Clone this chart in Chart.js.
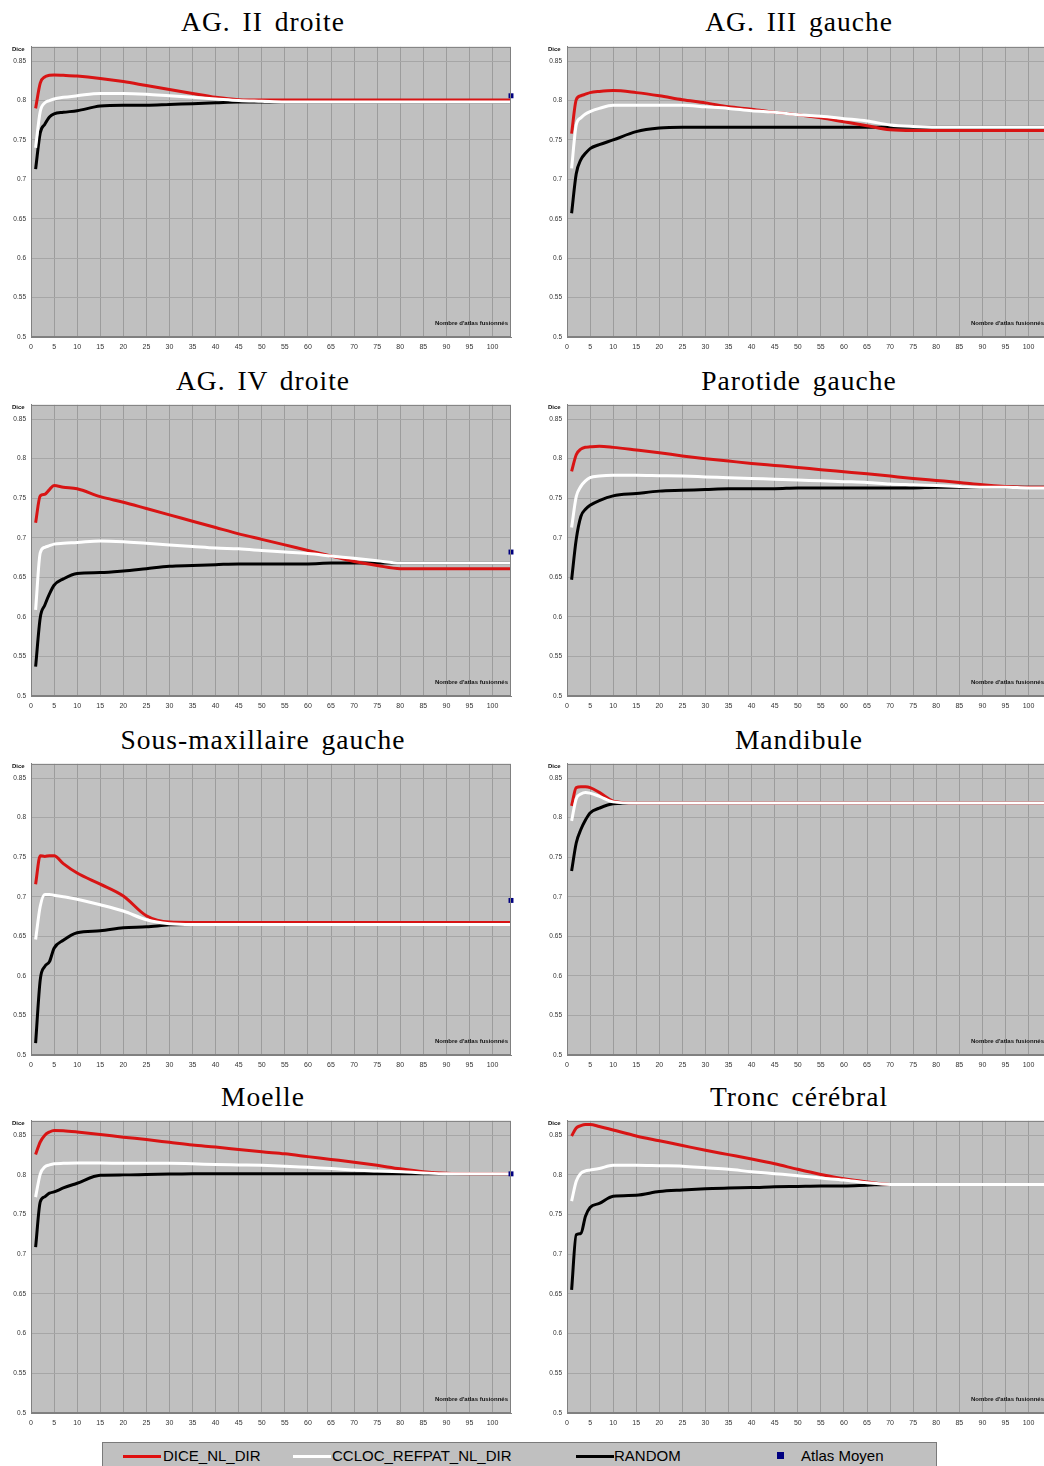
<!DOCTYPE html>
<html>
<head>
<meta charset="utf-8">
<script src="https://cdn.jsdelivr.net/npm/chart.js@4.4.1/dist/chart.umd.min.js"></script>
<style>
html,body{margin:0;padding:0;background:#fff;width:1044px;height:1466px;overflow:hidden;}
#wrap{position:relative;width:1044px;height:1466px;overflow:hidden;}
canvas{position:absolute;}
.title{position:absolute;width:526px;text-align:center;font-family:"Liberation Serif","Times New Roman",serif;font-size:27.5px;letter-spacing:1px;word-spacing:4px;color:#000;line-height:30px;white-space:nowrap;}
#legend{position:absolute;left:102px;top:1442px;width:835px;height:40px;background:#c0c0c0;border:1px solid #7a7a7a;box-sizing:border-box;font-family:"Liberation Sans",Arial,sans-serif;font-size:15px;color:#000;}
.li{position:absolute;top:4px;line-height:18px;white-space:nowrap;}
.ln{position:absolute;height:3px;top:12px;}
.sq{position:absolute;width:7px;height:7px;top:9px;background:#000080;}
</style>
</head>
<body>
<div id="wrap">
<div id="legend">
  <div class="ln" style="left:20px;width:38px;background:#e01010;"></div>
  <div class="li" style="left:60px;">DICE_NL_DIR</div>
  <div class="ln" style="left:190px;width:38px;background:#ffffff;"></div>
  <div class="li" style="left:229px;">CCLOC_REFPAT_NL_DIR</div>
  <div class="ln" style="left:473px;width:38px;background:#000000;"></div>
  <div class="li" style="left:511px;">RANDOM</div>
  <div class="sq" style="left:674px;"></div>
  <div class="li" style="left:698px;">Atlas Moyen</div>
</div>
</div>
<script>
// ---- Data ----
const X = [1,2,3,4,5,7,10,15,20,25,30,35,40,45,50,55,60,65,70,75,80,85,90,95,100,104];
const xTickLabels = [0,5,10,15,20,25,30,35,40,45,50,55,60,65,70,75,80,85,90,95,100];
const yTickLabels = [0.5,0.55,0.6,0.65,0.7,0.75,0.8,0.85];
const seriesNames = ["DICE_NL_DIR","CCLOC_REFPAT_NL_DIR","RANDOM","Atlas Moyen"];
const titles = ["AG. II droite","AG. III gauche","AG. IV droite","Parotide gauche","Sous-maxillaire gauche","Mandibule","Moelle","Tronc cérébral"];

// AG. II droite
const agIIdroite_dice   = [0.790,0.822,0.830,0.832,0.8325,0.832,0.831,0.828,0.824,0.819,0.814,0.809,0.804,0.801,0.8005,0.8005,0.8005,0.8005,0.8005,0.8005,0.8005,0.8005,0.8005,0.8005,0.8005,0.8005];
const agIIdroite_ccloc  = [0.740,0.786,0.797,0.800,0.802,0.804,0.806,0.809,0.809,0.808,0.806,0.804,0.802,0.800,0.799,0.798,0.798,0.798,0.798,0.798,0.798,0.798,0.798,0.798,0.798,0.798];
const agIIdroite_random = [0.713,0.759,0.770,0.779,0.783,0.785,0.787,0.793,0.794,0.794,0.795,0.796,0.797,0.798,0.798,0.798,0.798,0.798,0.798,0.798,0.798,0.798,0.798,0.798,0.798,0.798];
const agIIdroite_atlas  = 0.806;

// AG. III gauche
const agIIIgauche_dice   = [0.758,0.801,0.806,0.808,0.810,0.8115,0.8126,0.810,0.806,0.801,0.797,0.792,0.789,0.785,0.782,0.778,0.773,0.768,0.763,0.762,0.762,0.762,0.762,0.762,0.762,0.762];
const agIIIgauche_ccloc  = [0.714,0.769,0.778,0.783,0.786,0.790,0.794,0.794,0.794,0.794,0.792,0.790,0.787,0.785,0.782,0.780,0.777,0.774,0.769,0.767,0.766,0.766,0.766,0.766,0.766,0.766];
const agIIIgauche_random = [0.657,0.707,0.725,0.733,0.739,0.744,0.750,0.7605,0.765,0.766,0.766,0.766,0.766,0.766,0.766,0.766,0.766,0.766,0.766,0.766,0.766,0.766,0.766,0.766,0.766,0.766];
const agIIIgauche_atlas  = 0.788;

// AG. IV droite
const agIVdroite_dice   = [0.719,0.753,0.755,0.761,0.766,0.764,0.762,0.752,0.745,0.737,0.729,0.721,0.713,0.705,0.698,0.691,0.684,0.677,0.670,0.665,0.661,0.661,0.661,0.661,0.661,0.661];
const agIVdroite_ccloc  = [0.609,0.681,0.688,0.690,0.692,0.693,0.694,0.696,0.695,0.693,0.691,0.689,0.687,0.686,0.684,0.682,0.680,0.677,0.674,0.671,0.668,0.668,0.668,0.668,0.668,0.668];
const agIVdroite_random = [0.537,0.599,0.615,0.629,0.640,0.648,0.655,0.656,0.658,0.661,0.664,0.665,0.666,0.667,0.667,0.667,0.667,0.668,0.668,0.668,0.668,0.668,0.668,0.668,0.668,0.668];
const agIVdroite_atlas  = 0.682;

// Parotide gauche
const parotide_dice   = [0.784,0.805,0.812,0.8145,0.815,0.8156,0.8143,0.811,0.8075,0.8035,0.800,0.797,0.794,0.7915,0.789,0.786,0.7835,0.781,0.778,0.775,0.7725,0.770,0.767,0.765,0.764,0.764];
const parotide_ccloc  = [0.713,0.752,0.765,0.772,0.776,0.778,0.779,0.779,0.7785,0.778,0.777,0.776,0.775,0.774,0.773,0.772,0.771,0.770,0.768,0.767,0.766,0.765,0.764,0.764,0.763,0.763];
const parotide_random = [0.647,0.698,0.727,0.736,0.741,0.747,0.753,0.756,0.759,0.760,0.761,0.762,0.762,0.762,0.763,0.763,0.763,0.763,0.763,0.763,0.764,0.764,0.764,0.764,0.764,0.764];
const parotide_atlas  = 0.764;

// Sous-maxillaire gauche
const sousmax_dice   = [0.716,0.752,0.751,0.752,0.752,0.742,0.730,0.716,0.701,0.676,0.668,0.6675,0.6675,0.6675,0.6675,0.6675,0.6675,0.6675,0.6675,0.6675,0.6675,0.6675,0.6675,0.6675,0.6675,0.6675];
const sousmax_ccloc  = [0.646,0.688,0.703,0.703,0.702,0.700,0.697,0.690,0.682,0.671,0.666,0.665,0.665,0.665,0.665,0.665,0.665,0.665,0.665,0.665,0.665,0.665,0.665,0.665,0.665,0.665];
const sousmax_random = [0.515,0.595,0.612,0.618,0.635,0.645,0.6545,0.657,0.661,0.662,0.6645,0.665,0.665,0.665,0.665,0.665,0.665,0.665,0.665,0.665,0.665,0.665,0.665,0.665,0.665,0.665];
const sousmax_atlas  = 0.6954;

// Mandibule
const mandibule_dice   = [0.815,0.838,0.839,0.839,0.838,0.832,0.821,0.8185,0.8185,0.8185,0.8185,0.8185,0.8185,0.8185,0.8185,0.8185,0.8185,0.8185,0.8185,0.8185,0.8185,0.8185,0.8185,0.8185,0.8185,0.8185];
const mandibule_ccloc  = [0.796,0.824,0.830,0.832,0.831,0.827,0.820,0.8185,0.8185,0.8185,0.8185,0.8185,0.8185,0.8185,0.8185,0.8185,0.8185,0.8185,0.8185,0.8185,0.8185,0.8185,0.8185,0.8185,0.8185,0.8185];
const mandibule_random = [0.7326,0.768,0.785,0.797,0.806,0.812,0.8175,0.8185,0.8185,0.8185,0.8185,0.8185,0.8185,0.8185,0.8185,0.8185,0.8185,0.8185,0.8185,0.8185,0.8185,0.8185,0.8185,0.8185,0.8185,0.8185];
const mandibule_atlas  = 0.832;

// Moelle
const moelle_dice   = [0.8257,0.8414,0.850,0.854,0.856,0.8555,0.854,0.851,0.8475,0.8445,0.841,0.8375,0.835,0.832,0.829,0.8265,0.823,0.8195,0.816,0.812,0.8076,0.804,0.802,0.8015,0.8015,0.8015];
const moelle_ccloc  = [0.772,0.801,0.810,0.8125,0.814,0.8145,0.815,0.815,0.8145,0.8145,0.8145,0.814,0.813,0.8125,0.812,0.811,0.8095,0.808,0.806,0.805,0.804,0.8025,0.8015,0.8015,0.8015,0.8015];
const moelle_random = [0.709,0.766,0.7725,0.777,0.7785,0.7835,0.7895,0.7995,0.800,0.8005,0.801,0.8015,0.8015,0.8015,0.8015,0.8015,0.8015,0.8015,0.8015,0.8015,0.8015,0.8015,0.8015,0.8015,0.8015,0.8015];
const moelle_atlas  = 0.8013;

// Tronc cérébral
const tronc_dice   = [0.849,0.859,0.862,0.8635,0.8635,0.861,0.8565,0.849,0.843,0.837,0.831,0.8255,0.820,0.814,0.807,0.8005,0.795,0.791,0.788,0.788,0.788,0.788,0.788,0.788,0.788,0.788];
const tronc_ccloc  = [0.767,0.792,0.802,0.805,0.806,0.808,0.812,0.812,0.8115,0.811,0.809,0.807,0.804,0.8015,0.799,0.796,0.7935,0.790,0.788,0.788,0.788,0.788,0.788,0.788,0.788,0.788];
const tronc_random = [0.655,0.7246,0.726,0.748,0.759,0.764,0.773,0.7744,0.779,0.781,0.7825,0.7836,0.784,0.785,0.7855,0.786,0.786,0.787,0.788,0.788,0.788,0.788,0.788,0.788,0.788,0.788];
const tronc_atlas  = 0.7915;

const atlasX = 104;

// ---- Build ----
const panels = [
  [agIIdroite_dice, agIIdroite_ccloc, agIIdroite_random, agIIdroite_atlas],
  [agIIIgauche_dice, agIIIgauche_ccloc, agIIIgauche_random, agIIIgauche_atlas],
  [agIVdroite_dice, agIVdroite_ccloc, agIVdroite_random, agIVdroite_atlas],
  [parotide_dice, parotide_ccloc, parotide_random, parotide_atlas],
  [sousmax_dice, sousmax_ccloc, sousmax_random, sousmax_atlas],
  [mandibule_dice, mandibule_ccloc, mandibule_random, mandibule_atlas],
  [moelle_dice, moelle_ccloc, moelle_random, moelle_atlas],
  [tronc_dice, tronc_ccloc, tronc_random, tronc_atlas]
];

const plotTops = [46, 404, 763, 1120];
const plotBottoms = [337, 696, 1055, 1413];
const titleCenters = [22, 381, 740, 1097];
const colLeft = [0, 536];
const titleCenterX = [263, 799];
const PAD_TOP = 8, X_AXIS_H = 22, Y_AXIS_W = 31, CW = 520;

const decor = {
  id: 'decor',
  beforeDraw(chart) {
    const a = chart.chartArea, c = chart.ctx;
    c.save();
    c.fillStyle = '#c0c0c0';
    c.fillRect(a.left, a.top, a.right - a.left, a.bottom - a.top);
    c.restore();
  },
  afterDraw(chart) {
    const a = chart.chartArea, c = chart.ctx;
    c.save();
    c.strokeStyle = '#808080';
    c.lineWidth = 1;
    c.strokeRect(a.left + 0.5, a.top + 0.5, a.right - a.left - 1, a.bottom - a.top - 1);
    c.fillStyle = '#111';
    c.font = 'bold 6px "Liberation Sans", Arial, sans-serif';
    c.textBaseline = 'middle';
    c.textAlign = 'left';
    c.fillText('Dice', a.left - 19, a.top + 2);
    c.textAlign = 'right';
    c.fillText("Nombre d'atlas fusionnés", a.right - 3, a.bottom - 14);
    c.restore();
  }
};

const wrap = document.getElementById('wrap');
panels.forEach((p, i) => {
  const row = Math.floor(i / 2), col = i % 2;
  const t = document.createElement('div');
  t.className = 'title';
  t.textContent = titles[i];
  t.style.left = (titleCenterX[col] - 263) + 'px';
  t.style.top = (titleCenters[row] - 15) + 'px';
  wrap.appendChild(t);

  const cv = document.createElement('canvas');
  const h = PAD_TOP + (plotBottoms[row] - plotTops[row]) + X_AXIS_H;
  cv.width = CW; cv.height = h;
  cv.style.width = CW + 'px'; cv.style.height = h + 'px';
  cv.style.left = colLeft[col] + 'px';
  cv.style.top = (plotTops[row] - PAD_TOP) + 'px';
  wrap.appendChild(cv);

  const mk = arr => X.map((x, k) => ({x: x, y: arr[k]}));
  new Chart(cv, {
    type: 'line',
    data: {
      datasets: [
        {label: seriesNames[3], type: 'scatter', data: [{x: atlasX, y: p[3]}], pointStyle: 'rect', pointRadius: 3.5, backgroundColor: '#000080', borderColor: '#000080', borderWidth: 0, clip: false, order: 0},
        {label: seriesNames[1], data: mk(p[1]), borderColor: '#ffffff', borderWidth: 3, pointRadius: 0, cubicInterpolationMode: 'monotone', order: 1},
        {label: seriesNames[0], data: mk(p[0]), borderColor: '#d81414', borderWidth: 3, pointRadius: 0, cubicInterpolationMode: 'monotone', order: 2},
        {label: seriesNames[2], data: mk(p[2]), borderColor: '#000000', borderWidth: 3, pointRadius: 0, cubicInterpolationMode: 'monotone', order: 3}
      ]
    },
    options: {
      responsive: false, animation: false, devicePixelRatio: 1,
      layout: {padding: {top: PAD_TOP, right: 9, left: 0, bottom: 0}},
      plugins: {legend: {display: false}, tooltip: {enabled: false}, title: {display: false}},
      scales: {
        x: {
          type: 'linear', min: 0, max: 104,
          afterBuildTicks: s => { s.ticks = xTickLabels.map(v => ({value: v})); },
          afterFit: s => { s.height = X_AXIS_H; },
          ticks: {stepSize: 5, autoSkip: false, maxRotation: 0, padding: 6, color: '#333', font: {family: '"Liberation Sans", Arial, sans-serif', size: 7}, callback: v => String(v)},
          grid: {color: '#9c9c9c', lineWidth: 1, drawTicks: false},
          border: {color: '#808080'}
        },
        y: {
          type: 'linear', min: 0.5, max: 0.868,
          afterBuildTicks: s => { s.ticks = yTickLabels.map(v => ({value: v})); },
          afterFit: s => { s.width = Y_AXIS_W; },
          ticks: {padding: 5, color: '#333', font: {family: '"Liberation Sans", Arial, sans-serif', size: 6.5}, callback: v => String(+v.toFixed(2))},
          grid: {color: '#a6a6a6', lineWidth: 1, drawTicks: false},
          border: {color: '#808080'}
        }
      }
    },
    plugins: [decor]
  });
});
</script>
</body>
</html>
